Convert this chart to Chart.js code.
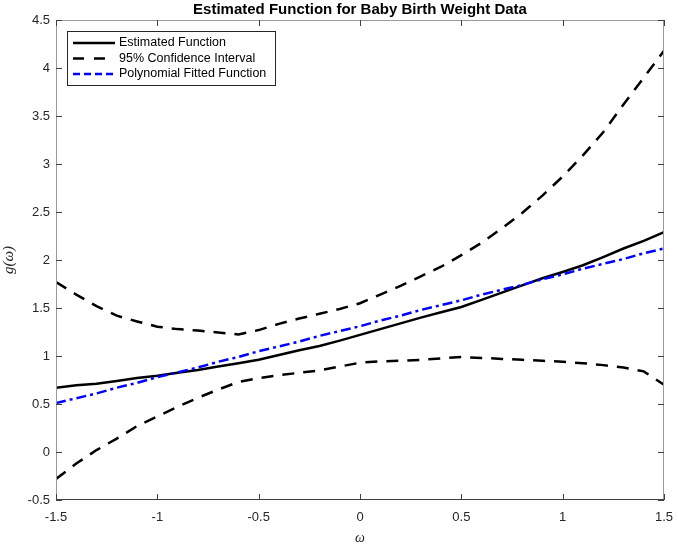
<!DOCTYPE html>
<html>
<head>
<meta charset="utf-8">
<title>Estimated Function for Baby Birth Weight Data</title>
<script src="https://cdn.jsdelivr.net/npm/chart.js@4.4.1/dist/chart.umd.min.js"></script>
<style>
  html, body { margin: 0; padding: 0; background: #fff; }
  #chart { display: block; }
</style>
</head>
<body>
<canvas id="chart" width="678" height="544"></canvas>
<script>
// --- Data ---
const omega = [-1.5, -1.4, -1.3, -1.2, -1.1, -1.0, -0.9, -0.8, -0.7, -0.6, -0.5,
               -0.4, -0.3, -0.2, -0.1, 0.0, 0.1, 0.2, 0.3, 0.4, 0.5,
               0.6, 0.7, 0.8, 0.9, 1.0, 1.1, 1.2, 1.3, 1.4, 1.5];

const estimated = [0.67, 0.695, 0.71, 0.74, 0.77, 0.795, 0.825, 0.855, 0.89, 0.925, 0.96,
                   1.01, 1.06, 1.105, 1.16, 1.22, 1.28, 1.34, 1.40, 1.455, 1.51,
                   1.585, 1.66, 1.735, 1.81, 1.875, 1.945, 2.03, 2.12, 2.2, 2.29];

const upperCI = [1.77, 1.64, 1.52, 1.42, 1.36, 1.305, 1.28, 1.265, 1.245, 1.225, 1.27,
                 1.335, 1.39, 1.44, 1.49, 1.55, 1.64, 1.73, 1.83, 1.93, 2.05,
                 2.18, 2.33, 2.49, 2.67, 2.87, 3.09, 3.33, 3.62, 3.90, 4.18];

const lowerCI = [-0.28, -0.12, 0.02, 0.14, 0.27, 0.37, 0.47, 0.565, 0.65, 0.73, 0.77,
                 0.80, 0.825, 0.85, 0.89, 0.93, 0.945, 0.95, 0.96, 0.975, 0.99,
                 0.98, 0.97, 0.96, 0.95, 0.94, 0.925, 0.905, 0.88, 0.84, 0.70];

const polyFit = [0.51, 0.56, 0.61, 0.67, 0.72, 0.78, 0.83, 0.88, 0.94, 0.99, 1.05,
                 1.10, 1.15, 1.21, 1.26, 1.31, 1.37, 1.42, 1.48, 1.53, 1.58,
                 1.64, 1.69, 1.74, 1.80, 1.85, 1.91, 1.96, 2.01, 2.07, 2.12];

const xTicks = [-1.5, -1, -0.5, 0, 0.5, 1, 1.5];
const yTicks = [-0.5, 0, 0.5, 1, 1.5, 2, 2.5, 3, 3.5, 4, 4.5];

const chartTitle = "Estimated Function for Baby Birth Weight Data";
const xTitle = "\u03c9";
const yTitle = "g(\u03c9)";

// --- Helpers ---
const toPoints = ys => omega.map((x, i) => ({ x, y: ys[i] }));

const SANS = '"Liberation Sans", Arial, Helvetica, sans-serif';
const SERIF = '"Liberation Serif", "DejaVu Serif", serif';

const LEGEND = [
  { label: "Estimated Function",         color: "#000000", dash: [] },
  { label: "95% Confidence Interval",    color: "#000000", dash: [11, 10] },
  { label: "Polynomial Fitted Function", color: "#0000ff", dash: [7, 4] }
];

// --- Plugin: MATLAB-style box, inner ticks, title, axis labels, legend ---
const matlabFrame = {
  id: "matlabFrame",
  afterDraw(chart) {
    const { ctx, chartArea: a, scales } = chart;
    const tick = 6;
    ctx.save();

    // box
    ctx.strokeStyle = "#9a9a9a";
    ctx.lineWidth = 1;
    ctx.setLineDash([]);
    ctx.strokeRect(a.left + 0.5, a.top + 0.5, a.right - a.left - 1, a.bottom - a.top - 1);
    ctx.strokeStyle = "#404040";
    ctx.beginPath();
    ctx.moveTo(a.left, a.bottom - 0.5);
    ctx.lineTo(a.right, a.bottom - 0.5);
    ctx.stroke();

    // inner ticks
    ctx.strokeStyle = "#404040";
    ctx.beginPath();
    xTicks.forEach(v => {
      const px = Math.round(scales.x.getPixelForValue(v)) + 0.5;
      ctx.moveTo(px, a.bottom); ctx.lineTo(px, a.bottom - tick);
      ctx.moveTo(px, a.top);    ctx.lineTo(px, a.top + tick);
    });
    yTicks.forEach(v => {
      const py = Math.round(scales.y.getPixelForValue(v)) + 0.5;
      ctx.moveTo(a.left, py);  ctx.lineTo(a.left + tick, py);
      ctx.moveTo(a.right, py); ctx.lineTo(a.right - tick, py);
    });
    ctx.stroke();

    // title
    ctx.fillStyle = "#000";
    ctx.font = "bold 15px " + SANS;
    ctx.textAlign = "center";
    ctx.textBaseline = "middle";
    ctx.fillText(chartTitle, (a.left + a.right) / 2, 10);

    // axis titles
    ctx.fillStyle = "#262626";
    ctx.font = "italic 14px " + SERIF;
    ctx.fillText(xTitle, (a.left + a.right) / 2, 538);
    ctx.font = "italic 15px " + SERIF;
    ctx.save();
    ctx.translate(9, (a.top + a.bottom) / 2);
    ctx.rotate(-Math.PI / 2);
    ctx.fillText(yTitle, 0, 0);
    ctx.restore();

    // legend
    const lx = 67, ly = 31, lw = 208, lh = 54;
    ctx.fillStyle = "#fff";
    ctx.fillRect(lx, ly, lw, lh);
    ctx.strokeStyle = "#262626";
    ctx.lineWidth = 1;
    ctx.strokeRect(lx + 0.5, ly + 0.5, lw, lh);
    ctx.font = "12.5px " + SANS;
    ctx.textAlign = "left";
    LEGEND.forEach((item, i) => {
      const y = 43 + i * 15.5;
      ctx.strokeStyle = item.color;
      ctx.lineWidth = 2.5;
      ctx.setLineDash(item.dash);
      ctx.beginPath();
      ctx.moveTo(73, y); ctx.lineTo(115, y);
      ctx.stroke();
      ctx.setLineDash([]);
      ctx.fillStyle = "#000";
      ctx.fillText(item.label, 119, y);
    });

    ctx.restore();
  }
};

// --- Chart ---
const lineStyle = { pointRadius: 0, borderWidth: 2.5, tension: 0, fill: false, showLine: true };
const tickFont = { family: SANS, size: 13 };
const plainLabel = v => String(v);

new Chart(document.getElementById("chart"), {
  type: "scatter",
  data: {
    datasets: [
      { ...lineStyle, label: "Polynomial Fitted Function", data: toPoints(polyFit),
        borderColor: "#0000ff", borderDash: [10, 4, 3, 4], order: 0 },
      { ...lineStyle, label: "Estimated Function", data: toPoints(estimated),
        borderColor: "#000000", order: 1 },
      { ...lineStyle, label: "95% Confidence Interval", data: toPoints(upperCI),
        borderColor: "#000000", borderDash: [12, 9], order: 2 },
      { ...lineStyle, label: "95% Confidence Interval (lower)", data: toPoints(lowerCI),
        borderColor: "#000000", borderDash: [12, 9], order: 2 }
    ]
  },
  options: {
    responsive: false,
    animation: false,
    layout: { padding: { top: 20, right: 14, left: 0, bottom: 0 } },
    plugins: {
      legend: { display: false },
      title: { display: false },
      tooltip: { enabled: false }
    },
    scales: {
      x: {
        type: "linear",
        min: -1.5, max: 1.5,
        afterBuildTicks: s => { s.ticks = xTicks.map(v => ({ value: v })); },
        afterFit: s => { s.height = 44; s.paddingLeft = 0; s.paddingRight = 0; },
        grid: { display: false, drawTicks: false },
        border: { display: false },
        ticks: { padding: 10, color: "#262626", font: tickFont, maxRotation: 0, callback: plainLabel }
      },
      y: {
        type: "linear",
        min: -0.5, max: 4.5,
        afterBuildTicks: s => { s.ticks = yTicks.map(v => ({ value: v })); },
        afterFit: s => { s.width = 56; s.paddingTop = 0; s.paddingBottom = 0; },
        grid: { display: false, drawTicks: false },
        border: { display: false },
        ticks: { padding: 6, color: "#262626", font: tickFont, callback: plainLabel }
      }
    }
  },
  plugins: [matlabFrame]
});
</script>
</body>
</html>
